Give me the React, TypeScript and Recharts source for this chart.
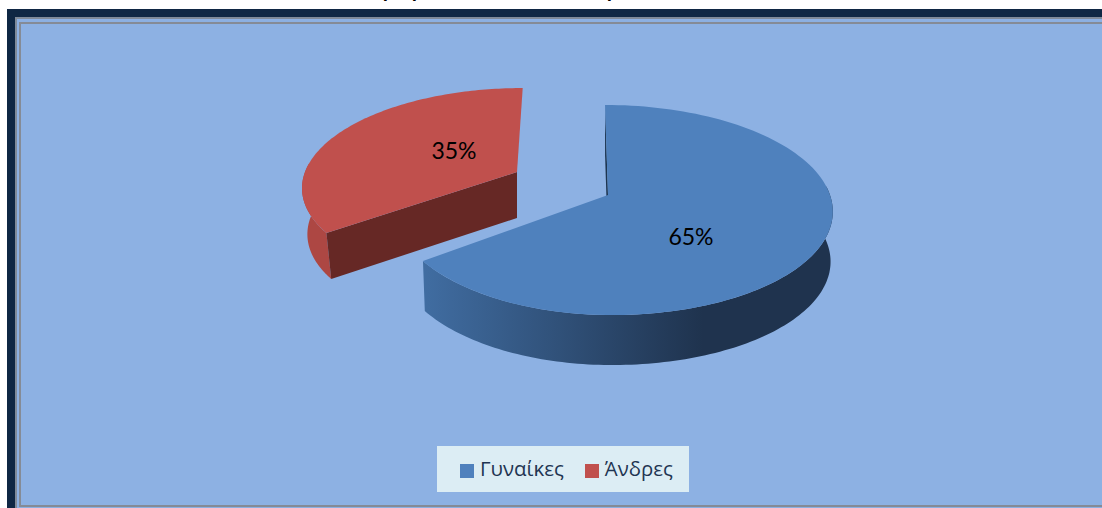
import React from "react";
import { PieChart, Pie, Cell, Legend } from "recharts";

const categories = ["Γυναίκες", "Άνδρες"];
const shares = [65, 35];
const sliceColors = ["#4f81bd", "#c0504d"];
const labels = ["65%", "35%"];
const titleTails = ["ρ", "ρ", "ρ"];

const data = categories.map((name, i) => ({ name, value: shares[i] }));

// projection of each slice's disc on the page (offsets from the pie centre)
const VIEWS = [
  { dx: 0, dy: 0, rxL: 212, rxR: 222, ry: 102.9, k: 1 / 7, skew: 0.033, depth: 50, depthX: 2, labelX: 83, labelY: 41 },
  { dx: -91, dy: -23, rxL: 212, rxR: 212, ry: 95.4, k: 0.136, skew: -0.068, depth: 46, depthX: 5, labelX: -63, labelY: -22 },
];
const FACE = ["#1d3550", "#662825"];
const WALL = ["url(#blueWall)", "#ad4743"];

function project(view: any, cx: number, cy: number, deg: number) {
  const a = (deg * Math.PI) / 180;
  const u = Math.sin(a);
  const v = -Math.cos(a);
  const den = 1 - view.k * v;
  const yy = (view.ry * v) / den;
  const xx = ((u < 0 ? view.rxL : view.rxR) * u) / den + view.skew * yy;
  return [cx + view.dx + xx, cy + view.dy + yy];
}
const toPath = (pts: number[][]) =>
  "M" + pts.map((p) => `${p[0].toFixed(2)},${p[1].toFixed(2)}`).join("L") + "Z";

function Slice3D(props: any) {
  const { cx, cy, startAngle, endAngle, index, fill } = props;
  const view = VIEWS[index];
  const from = 90 - startAngle;
  const to = 90 - endAngle;
  const N = 120;
  const arc = (a: number, b: number) => {
    const pts: number[][] = [];
    for (let i = 0; i <= N; i++) pts.push(project(view, cx, cy, a + ((b - a) * i) / N));
    return pts;
  };
  const rim = arc(from, to);
  const apex = [cx + view.dx, cy + view.dy];
  const down = (p: number[]) => [p[0] + (view.depthX * (apex[0] - p[0])) / 200, p[1] + view.depth];
  const front = arc(Math.max(from, 85), Math.min(to, 275));
  const wall = [...front, ...front.map(down).reverse()];
  const face = [apex, rim[0], down(rim[0]), down(apex)];
  const top = [apex, ...rim];
  return (
    <g>
      <defs>
        <linearGradient id="blueWall" gradientUnits="userSpaceOnUse" x1={cx - 190} x2={cx + 95} y1={0} y2={0}>
          <stop offset="0" stopColor="#416ea3" />
          <stop offset="1" stopColor="#1f334e" />
        </linearGradient>
      </defs>
      <path d={toPath(wall)} fill={WALL[index]} />
      <path d={toPath(face)} fill={FACE[index]} />
      <path d={toPath(top)} fill={fill} />
    </g>
  );
}

function SliceLabel(props: any) {
  const { cx, cy, index } = props;
  const view = VIEWS[index];
  return (
    <text
      x={cx + view.dx + view.labelX}
      y={cy + view.dy + view.labelY}
      textAnchor="middle"
      dominantBaseline="central"
      fontFamily="Lato, 'Open Sans', sans-serif"
      fontSize={23}
      fill="#000"
    >
      {labels[index]}
    </text>
  );
}

const box = (s: React.CSSProperties): React.CSSProperties => ({ position: "absolute", boxSizing: "border-box", ...s });

export default function App() {
  return (
    <div style={box({ left: 0, top: 0, width: 1102, height: 508, overflow: "hidden", background: "#fff" })}>
      {titleTails.map((t, i) => (
        <span
          key={i}
          style={{
            position: "absolute",
            left: [383, 412, 607][i],
            top: -19,
            fontFamily: "'Liberation Sans', sans-serif",
            fontWeight: 700,
            fontSize: 18,
            lineHeight: "20px",
            color: "#000",
          }}
        >
          {t}
        </span>
      ))}
      <div style={box({ left: 7, top: 9, width: 1095, height: 499, background: "#0f2744" })} />
      <div style={box({ left: 15, top: 17, width: 1087, height: 491, background: "#8cb0e2", borderLeft: "2px solid #7f8a99", borderTop: "2px solid #7f8a99" })} />
      <div style={box({ left: 19, top: 22, width: 1083, height: 485, background: "#8db1e3", borderLeft: "2px solid #858b96", borderTop: "2px solid #858b96", borderBottom: "2px solid #858b96" })} />
      <div style={{ position: "absolute", left: 0, top: 0 }}>
        <PieChart width={1102} height={508} margin={{ top: 0, right: 0, bottom: 0, left: 0 }}>
          <Pie
            data={data}
            dataKey="value"
            nameKey="name"
            cx={608}
            cy={195}
            outerRadius={100}
            startAngle={90}
            endAngle={-270}
            stroke="none"
            isAnimationActive={false}
            shape={Slice3D}
            label={SliceLabel}
            labelLine={false}
          >
            {data.map((d, i) => (
              <Cell key={d.name} fill={sliceColors[i]} />
            ))}
          </Pie>
          <Legend
            iconType="square"
            iconSize={14}
            layout="horizontal"
            align="left"
            itemSorter={null as any}
            wrapperStyle={{
              position: "absolute",
              left: 437,
              top: 446,
              bottom: "auto",
              width: 252,
              height: 46,
              background: "#dcedf4",
              paddingTop: 7,
              paddingLeft: 23,
              boxSizing: "border-box",
              whiteSpace: "nowrap",
            }}
            formatter={(value: string) => (
              <span style={{ color: "#1f3552", fontFamily: "'Open Sans', sans-serif", fontSize: 20.4, marginLeft: 2, marginRight: 11, position: "relative", top: 1 }}>
                {value}
              </span>
            )}
          />
        </PieChart>
      </div>
    </div>
  );
}
